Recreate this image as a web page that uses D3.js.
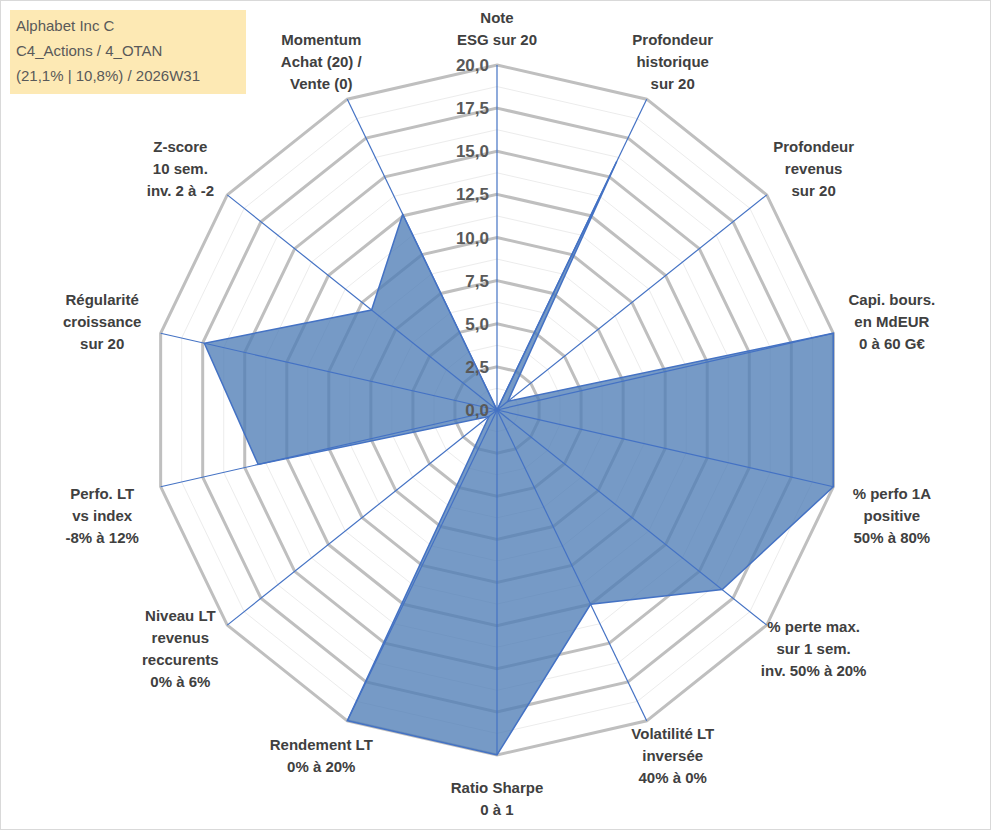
<!DOCTYPE html>
<html><head><meta charset="utf-8">
<script src="https://cdn.jsdelivr.net/npm/d3@7"></script>
<style>body{margin:0;background:#fff;font-family:"Liberation Sans",Arial,sans-serif}</style>
</head><body><div id="wrapper"></div>
<script>
// axis labels, clockwise from top
const axes = [
  ["Note", "ESG sur 20"],
  ["Profondeur", "historique", "sur 20"],
  ["Profondeur", "revenus", "sur 20"],
  ["Capi. bours.", "en MdEUR", "0 à 60 G€"],
  ["% perfo 1A", "positive", "50% à 80%"],
  ["% perte max.", "sur 1 sem.", "inv. 50% à 20%"],
  ["Volatilité LT", "inversée", "40% à 0%"],
  ["Ratio Sharpe", "0 à 1"],
  ["Rendement LT", "0% à 20%"],
  ["Niveau LT", "revenus", "reccurents", "0% à 6%"],
  ["Perfo. LT", "vs index", "-8% à 12%"],
  ["Régularité", "croissance", "sur 20"],
  ["Z-score", "10 sem.", "inv. 2 à -2"],
  ["Momentum", "Achat (20) /", "Vente (0)"]
];
const values = [0, 16, 0.8, 20, 20, 16.7, 12.5, 20, 20, 0.6, 14.2, 17.4, 9.3, 12.6];
const ticks = [0, 2.5, 5, 7.5, 10, 12.5, 15, 17.5, 20];
const titleLines = ["Alphabet Inc C", "C4_Actions / 4_OTAN", "(21,1% | 10,8%) / 2026W31"];

const W = 991, H = 830, cx = 497, cy = 410, R = 345;
const svg = d3.select("#wrapper").append("svg").attr("width", W).attr("height", H);
svg.append("rect").attr("x", 0.5).attr("y", 0.5).attr("width", W - 1).attr("height", H - 1)
  .attr("fill", "#fff").attr("stroke", "#d9d9d9");

const n = axes.length;
const ang = d3.scaleLinear().domain([0, n]).range([0, 2 * Math.PI]);
const r = d3.scaleLinear().domain([0, 20]).range([0, R]);
const pt = (i, v) => [cx + r(v) * Math.sin(ang(i)), cy - r(v) * Math.cos(ang(i))];
const g = svg.append("g");

// minor rings
d3.range(1.25, 20, 2.5).forEach(t => {
  g.append("polygon").attr("points", d3.range(n).map(i => pt(i, t).join(",")).join(" "))
    .attr("fill", "none").attr("stroke", "#ececec").attr("stroke-width", 1);
});
ticks.slice(1).forEach(t => {
  g.append("polygon").attr("points", d3.range(n).map(i => pt(i, t).join(",")).join(" "))
    .attr("fill", "none").attr("stroke", "#bfbfbf").attr("stroke-width", 3);
});

// data area
g.append("path")
  .attr("d", d3.line().curve(d3.curveLinearClosed)(values.map((v, i) => pt(i, v))))
  .attr("fill", "#4f7db6").attr("fill-opacity", 0.78).attr("stroke", "#4472c4").attr("stroke-width", 1.5);

// spokes
d3.range(n).forEach(i => {
  const [x, y] = pt(i, 20);
  g.append("line").attr("x1", cx).attr("y1", cy).attr("x2", x).attr("y2", y)
    .attr("stroke", "#4472c4").attr("stroke-width", 1.2);
});

// tick labels
ticks.forEach(t => {
  g.append("text").attr("x", cx - 8).attr("y", cy - r(t) + 6).attr("text-anchor", "end")
    .attr("font-size", 17).attr("font-weight", "bold").attr("fill", "#595959")
    .text(d3.format(".1f")(t).replace(".", ","));
});

// axis labels
axes.forEach((lines, i) => {
  const a = ang(i), s = Math.sin(a), c = Math.cos(a);
  const [x, y] = pt(i, 20);
  const lh = 22, h = lines.length * lh;
  let lx = x + s * 60, ly = y - c * 40;
  if (i === 0) { lx = cx; ly = 30; }
  if (i === 7) { lx = cx; ly = 800; }
  if (i === 3 || i === 11) ly = y - 10 - (i === 3 ? 0 : 0);
  if (i === 4 || i === 10) ly = y + 30;
  const t = g.append("text").attr("text-anchor", "middle").attr("font-size", 15)
    .attr("font-weight", "bold").attr("fill", "#404040");
  lines.forEach((l, k) => t.append("tspan").attr("x", lx).attr("y", ly - h / 2 + lh * k + 15).text(l));
});

// title box
svg.append("rect").attr("x", 10).attr("y", 10).attr("width", 236).attr("height", 84).attr("fill", "#fde9b4");
titleLines.forEach((l, k) => svg.append("text").attr("x", 16).attr("y", 31 + k * 25)
  .attr("font-size", 15).attr("fill", "#595959").text(l));
</script></body></html>
